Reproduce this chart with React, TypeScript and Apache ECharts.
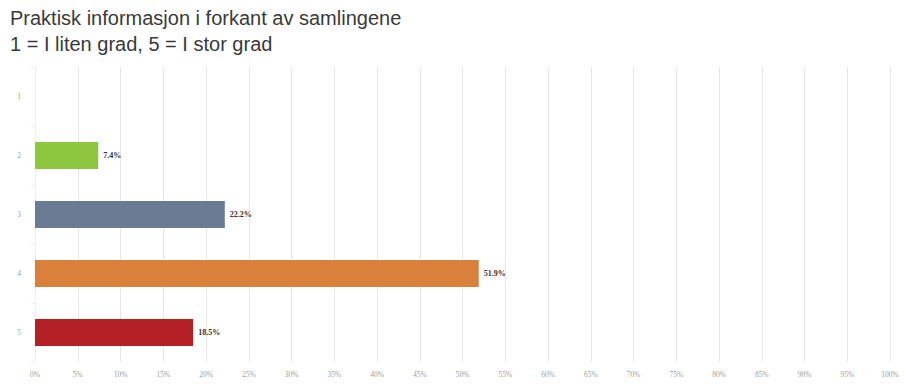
import React, { useEffect, useRef } from "react";
import * as echarts from "echarts";

const titleLine1 = "Praktisk informasjon i forkant av samlingene";
const titleLine2 = "1 = I liten grad, 5 = I stor grad";
const categories = ["1", "2", "3", "4", "5"];
const values: (number | null)[] = [null, 7.4, 22.2, 51.9, 18.5];
const labels = ["", "7.4%", "22.2%", "51.9%", "18.5%"];
const colors = ["#8dc63f", "#8dc63f", "#6b7b93", "#d9813a", "#b52026"];

export default function App() {
  const ref = useRef<HTMLDivElement>(null);
  useEffect(() => {
    if (!ref.current) return;
    const chart = echarts.init(ref.current, undefined, { renderer: "svg" });
    chart.setOption({
      animation: false,
      backgroundColor: "#ffffff",
      title: [
        {
          text: titleLine1 + "\n" + titleLine2,
          left: 5,
          top: 0,
          textStyle: {
            fontFamily: "Liberation Sans, Arial, sans-serif",
            fontSize: 20,
            fontWeight: "normal",
            color: "#3a3a3a",
            lineHeight: 26,
          },
        },
      ],
      grid: { left: 35, right: 17, top: 67, bottom: 30, containLabel: false },
      xAxis: {
        type: "value",
        min: 0,
        max: 100,
        interval: 5,
        axisLabel: {
          formatter: "{value}%",
          fontSize: 7.5,
          color: "#a0a0a0",
          fontFamily: "Liberation Serif, serif",
          margin: 8,
        },
        axisLine: { show: false },
        axisTick: { show: false },
        splitLine: { show: true, lineStyle: { color: "#e6e6e6", width: 1 } },
      },
      yAxis: {
        type: "category",
        data: categories,
        inverse: true,
        axisLabel: {
          fontSize: 7.5,
          color: "#a0a0a0",
          fontFamily: "Liberation Serif, serif",
          margin: 14,
        },
        axisLine: { show: true, lineStyle: { color: "#eeeeee" } },
        axisTick: { show: true, length: 4, lineStyle: { color: "#eeeeee" } },
      },
      series: [
        {
          type: "bar",
          barWidth: 27,
          data: values.map((v, i) => ({
            value: v,
            itemStyle: { color: colors[i] },
          })),
          label: {
            show: true,
            position: "right",
            distance: 5,
            formatter: (p: any) => labels[p.dataIndex],
            fontSize: 8,
            fontWeight: "bold",
            color: "#333333",
            fontFamily: "Liberation Serif, serif",
          },
        },
      ],
    });
    return () => chart.dispose();
  }, []);
  return (
    <div
      ref={ref}
      style={{ position: "fixed", left: 0, top: 0, width: 907, height: 392 }}
    />
  );
}
